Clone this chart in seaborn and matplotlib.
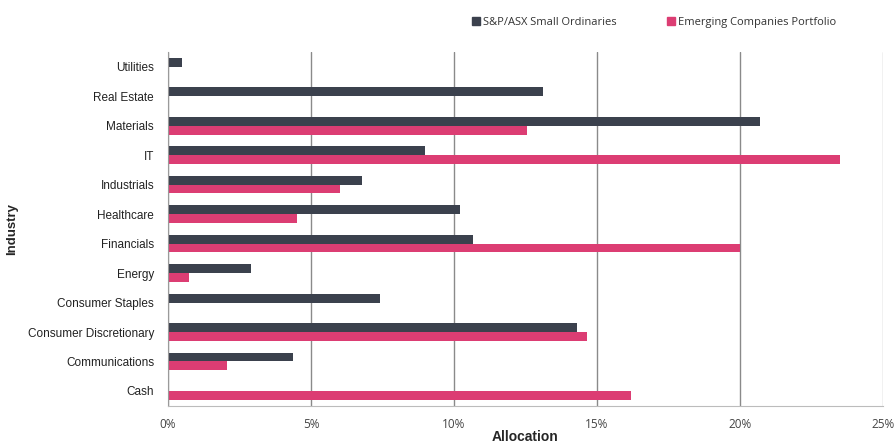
import pandas as pd
import matplotlib.pyplot as plt
import seaborn as sns
from matplotlib.patches import Patch
from matplotlib.ticker import FuncFormatter, FixedLocator

industries = ['Utilities', 'Real Estate', 'Materials', 'IT', 'Industrials',
              'Healthcare', 'Financials', 'Energy', 'Consumer Staples',
              'Consumer Discretionary', 'Communications', 'Cash']
small_ords = [0.49, 13.1, 20.7, 9.0, 6.8, 10.2, 10.68, 2.9, 7.41, 14.3, 4.38, 0.0]
portfolio = [0.0, 0.0, 12.55, 23.5, 6.0, 4.51, 20.0, 0.73, 0.0, 14.65, 2.05, 16.19]
series_names = ['S&P/ASX Small Ordinaries', 'Emerging Companies Portfolio']
colors = ['#3b414d', '#dc3d73']

df = pd.DataFrame({
    'Industry': industries * 2,
    'Allocation': small_ords + portfolio,
    'Series': [series_names[0]] * len(industries) + [series_names[1]] * len(industries),
})

sns.set_style('white')
plt.rcParams['font.family'] = ['Liberation Sans', 'DejaVu Sans']

fig, ax = plt.subplots(figsize=(8.96, 4.48), dpi=100)
fig.subplots_adjust(left=0.1875, right=0.9855, top=0.884, bottom=0.0944)

sns.barplot(data=df, y='Industry', x='Allocation', hue='Series', order=industries,
            hue_order=series_names, palette=colors, saturation=1, width=0.6, orient='h',
            linewidth=0, ax=ax, legend=False)

ax.set_xlim(0, 25)
ax.set_ylim(len(industries) - 0.5, -0.5)
ax.xaxis.set_major_locator(FixedLocator([0, 5, 10, 15, 20, 25]))
ax.xaxis.set_major_formatter(FuncFormatter(lambda v, p: f'{v:.0f}%'))
ax.grid(axis='x', color='#8a8a8a', linewidth=1)
ax.get_xgridlines()[-1].set_color('#bcbcbc')
ax.set_axisbelow(True)
for s in ['top', 'right']:
    ax.spines[s].set_visible(False)
ax.spines['left'].set_color('#9a9a9a')
ax.spines['bottom'].set_color('#bcbcbc')

ax.tick_params(axis='y', which='major', length=0, labelsize=8.5, labelcolor='#222222', pad=10)
ax.set_yticks([i + 0.5 for i in range(-1, len(industries))], minor=True)
ax.tick_params(axis='y', which='minor', length=4, color='#9a9a9a', direction='out')
ax.tick_params(axis='x', length=4, color='#bcbcbc', labelsize=8.5, labelcolor='#444444', pad=5)
for lab in ax.get_xticklabels():
    lab.set_family(['Open Sans', 'DejaVu Sans'])

ax.set_ylabel('Industry', fontsize=9.5, fontweight='bold')
ax.yaxis.set_label_coords(-0.21, 0.5)
ax.set_xlabel('Allocation', fontsize=10, fontweight='bold')
ax.xaxis.set_label_coords(0.5, -0.07)

handles = [Patch(color=c) for c in colors]
leg = fig.legend(handles, series_names, loc='center', bbox_to_anchor=(0.73, 0.95), ncol=2,
                 frameon=False, handlelength=0.7, handleheight=0.7, handletextpad=0.3,
                 columnspacing=4.5, prop={'family': ['Open Sans', 'DejaVu Sans'], 'size': 8})
for t in leg.get_texts():
    t.set_color('#333333')

fig.savefig('out.png', dpi=100)
